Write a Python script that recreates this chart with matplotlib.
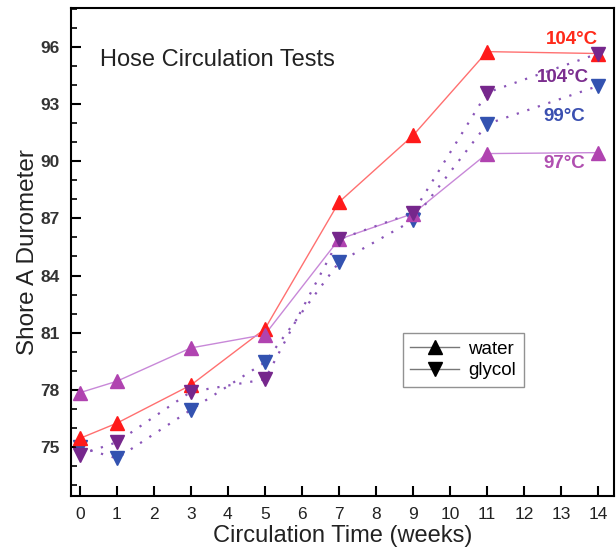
import matplotlib
matplotlib.use('Agg')
import matplotlib.pyplot as plt
from matplotlib.lines import Line2D
from matplotlib.ticker import MultipleLocator

plt.rcParams['font.family'] = ['Liberation Sans', 'DejaVu Sans']

# circulation time (weeks)
weeks = [0, 1, 3, 5, 7, 9, 11, 14]

# Shore A durometer readings
water_104 = [75.45, 76.25, 78.25, 81.2, 87.85, 91.35, 95.75, 95.65]
water_97 = [77.85, 78.45, 80.2, 80.9, 85.9, 87.25, 90.4, 90.45]
glycol_104 = [74.6, 75.25, 77.9, 78.55, 85.9, 87.3, 93.6, 95.65]
glycol_99 = [75.0, 74.4, 76.95, 79.45, 84.7, 86.9, 91.95, 93.95]

x_ticks = list(range(0, 15))
y_ticks = [75, 78, 81, 84, 87, 90, 93, 96]

fig = plt.figure(figsize=(6.16, 5.51), dpi=100)
ax = fig.add_axes([0.115, 0.0998, 0.882, 0.8857])

# water runs - solid lines, up triangles
ax.plot(weeks, water_104, color='#ff7070', lw=1.0, zorder=2)
ax.plot(weeks, water_104, ls='none', marker='^', ms=10, color='#ff1a1a', zorder=4)
ax.plot(weeks, water_97, color='#c888d8', lw=1.0, zorder=2)
ax.plot(weeks, water_97, ls='none', marker='^', ms=10, color='#b043b0', zorder=4)

# glycol runs - dotted lines, down triangles
ax.plot(weeks, glycol_104, color='#8a55b8', lw=1.6, ls=(0, (1, 4)), zorder=2)
ax.plot(weeks, glycol_104, ls='none', marker='v', ms=10, color='#76278c', zorder=4)
ax.plot(weeks, glycol_99, color='#8a55b8', lw=1.6, ls=(0, (1, 4)), zorder=2)
ax.plot(weeks, glycol_99, ls='none', marker='v', ms=10, color='#3352b0', zorder=3)

# temperature labels
ax.text(14.0, 96.37, '104°C', color='#ff2a1a', fontsize=13.5, fontweight='bold',
        ha='right', va='center')
ax.text(13.75, 94.4, '104°C', color='#7b2d8e', fontsize=13.5, fontweight='bold',
        ha='right', va='center')
ax.text(13.65, 92.35, '99°C', color='#3a4fb0', fontsize=13.5, fontweight='bold',
        ha='right', va='center')
ax.text(13.65, 89.9, '97°C', color='#b04fb0', fontsize=13.5, fontweight='bold',
        ha='right', va='center')

ax.text(0.55, 95.3, 'Hose Circulation Tests', fontsize=17, color='#222222',
        ha='left', va='center')

ax.set_xlim(-0.24, 14.43)
ax.set_ylim(72.43, 98.04)
ax.set_xticks(x_ticks)
ax.set_yticks(y_ticks)
ax.yaxis.set_minor_locator(MultipleLocator(1))
ax.tick_params(axis='both', which='both', direction='in', top=False, right=False)
ax.tick_params(axis='both', which='major', length=7, width=1.5)
ax.tick_params(axis='y', which='minor', length=4, width=1.2)
ax.tick_params(axis='x', labelsize=12.5, pad=8)
ax.tick_params(axis='y', labelsize=12.5, pad=8)
for lbl in ax.get_yticklabels():
    lbl.set_fontweight('bold')
    lbl.set_color('#333333')
for lbl in ax.get_xticklabels():
    lbl.set_color('#222222')
for sp in ax.spines.values():
    sp.set_linewidth(1.5)

ax.set_xlabel('Circulation Time (weeks)', fontsize=17, color='#222222', labelpad=2)
ax.set_ylabel('Shore A Durometer', fontsize=17.5, color='#222222', labelpad=1)

handles = [
    Line2D([], [], color='#777777', lw=1, marker='^', ms=10, mfc='black', mec='black'),
    Line2D([], [], color='#777777', lw=1, marker='v', ms=10, mfc='black', mec='black'),
]
leg = ax.legend(handles, ['water', 'glycol'], loc='upper left',
                bbox_to_anchor=(0.611, 0.334), fontsize=13.5, frameon=True,
                fancybox=False, edgecolor='#777777', handlelength=2.6,
                borderpad=0.4, labelspacing=0.25, handletextpad=0.5,
                borderaxespad=0.0)
leg.get_frame().set_linewidth(1.0)

fig.savefig('out.png', dpi=100)
